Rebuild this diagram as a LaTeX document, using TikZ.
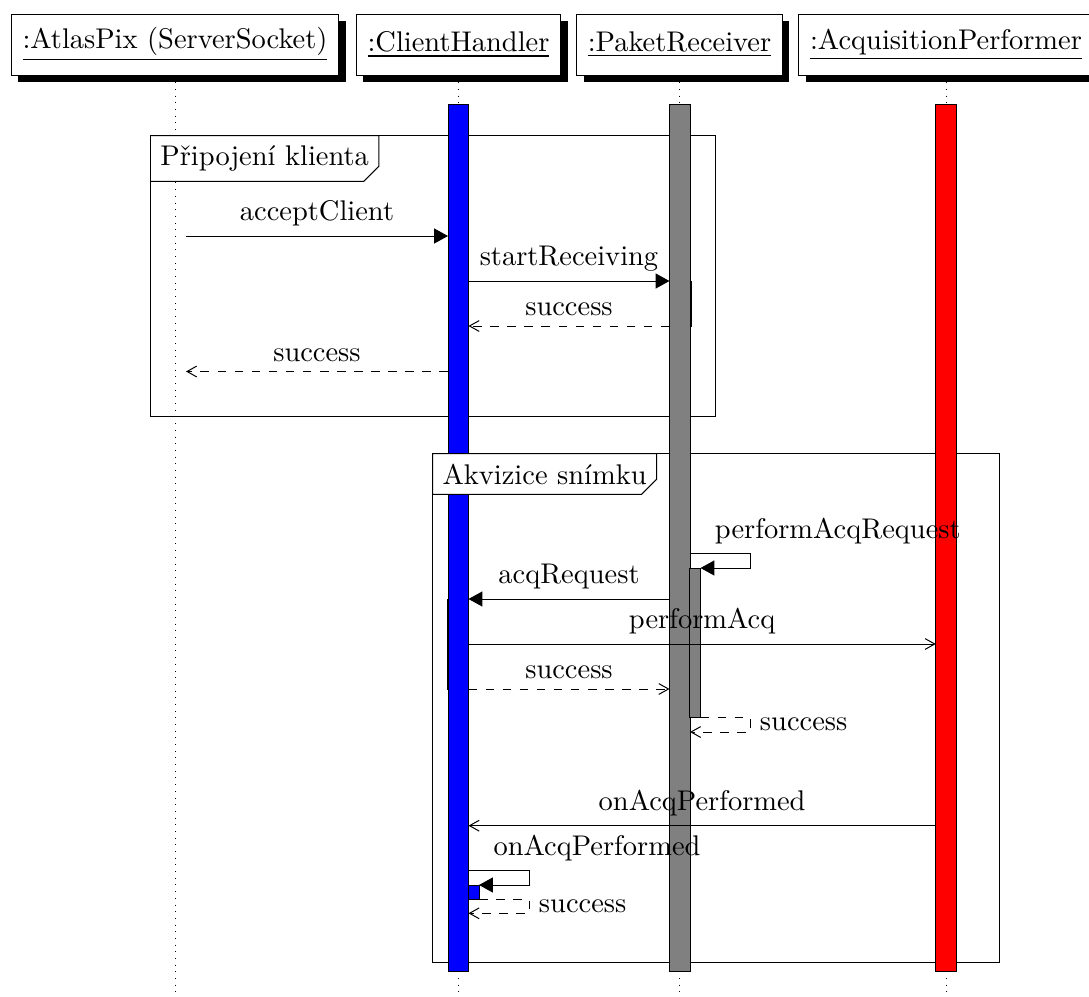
\documentclass[tikz,border=0pt]{standalone}
\usepackage{fontspec}
\usetikzlibrary{arrows.meta,shadows}
\newdimen\pxu
\pxu=0.3515pt
\begin{document}
\begin{tikzpicture}[x=\pxu, y=-\pxu,
  every path/.style={line width=0.35pt},
  header/.style={draw=black, fill=white, line width=0.35pt, inner xsep=3.9pt,
    minimum height=61\pxu,
    drop shadow={fill=black, opacity=1, shadow xshift=7\pxu, shadow yshift=-7\pxu}},
  lifeline/.style={dotted, line width=0.3pt},
  threadbar/.style={draw=black, line width=0.35pt, inner sep=0pt, outer sep=0pt,
    minimum width=20.5\pxu, anchor=north},
  fragment/.style={draw=black, line width=0.35pt},
  fraglabel/.style={anchor=north west, inner sep=3.33pt},
  callarrow/.style={-{Triangle[length=4.9pt,width=5.3pt]}},
  messarrow/.style={-{Straight Barb[length=3.4pt,width=3.8pt]}},
  retarrow/.style={messarrow, dashed},
]
\useasboundingbox (0,0) rectangle (1089,997);

% instances
\node[header] (atlas) at (175,44.5)   {\underline{:AtlasPix (ServerSocket)}};
\node[header] (ch)    at (458.5,44.5) {\underline{:ClientHandler}};
\node[header] (pr)    at (679.5,44.5) {\underline{:PaketReceiver}};
\node[header] (ap)    at (946,44.5)   {\underline{:AcquisitionPerformer}};

% lifelines
\coordinate (bottom) at (0,997);
\foreach \n in {atlas,ch,pr,ap}
  \draw[lifeline] (\n.south) -- (\n.south |- bottom);

% fragments
\coordinate (f1nw) at (150.5,135.7);
\coordinate (f1se) at (715,416.5);
\coordinate (f2nw) at (432.6,453.7);
\coordinate (f2se) at (999.4,962.3);
\draw[fragment] (f1nw) rectangle (f1se);
\draw[fragment] (f2nw) rectangle (f2se);

% call blocks lying under the thread bars
\node[threadbar, fill=gray, minimum height=45\pxu] (prcall) at (680.75,281) {};
\node[threadbar, fill=blue, minimum height=90\pxu] (chcall) at (457.25,599) {};

% thread bars
\node[threadbar, fill=blue, minimum height=867\pxu] (chbar) at (458.25,104) {};
\node[threadbar, fill=gray, minimum height=867\pxu] (prbar) at (679.75,104) {};
\node[threadbar, fill=red,  minimum height=867\pxu] (apbar) at (946,104) {};

% nested blocks of the self calls
\node[threadbar, fill=gray, minimum width=11\pxu, minimum height=149.5\pxu,
  anchor=north west] (prblk) at (689.5,568) {};
\node[threadbar, fill=blue, minimum width=10.5\pxu, minimum height=14.3\pxu,
  anchor=north west] (chblk) at (468.5,885) {};

% fragment labels
\path node[fraglabel] (f1box) at (f1nw) {\phantom{Připojení klienta}};
\draw[fragment, fill=white] (f1box.north west) -- (f1box.north east)
  -- ([yshift=5.3pt]f1box.south east) -- ([xshift=-5.3pt]f1box.south east)
  -- (f1box.south west) -- cycle;
\node[fraglabel] (f1lbl) at (f1nw) {Připojení klienta};

\path node[fraglabel] (f2box) at (f2nw) {\phantom{Akvizice snímku}};
\draw[fragment, fill=white] (f2box.north west) -- (f2box.north east)
  -- ([yshift=5.3pt]f2box.south east) -- ([xshift=-5.3pt]f2box.south east)
  -- (f2box.south west) -- cycle;
\node[fraglabel] (f2lbl) at (f2nw) {Akvizice snímku};

% message levels
\coordinate (atlR) at (186,0);
\coordinate (yA) at (0,236);
\coordinate (yB) at (0,281);
\coordinate (yC) at (0,326);
\coordinate (yD) at (0,371.5);
\coordinate (yE) at (0,553.5);
\coordinate (yG) at (0,599);
\coordinate (yH) at (0,644);
\coordinate (yI) at (0,689);
\coordinate (yK) at (0,732);
\coordinate (yL) at (0,825.7);
\coordinate (yM) at (0,870.7);
\coordinate (yP) at (0,913.3);

% connection of the client
\draw[callarrow] (atlR |- yA) -- node[above] {acceptClient} (chbar.west |- yA);
\draw[callarrow] (chbar.east |- yB) -- node[above] {startReceiving} (prbar.west |- yB);
\draw[retarrow] (prbar.west |- yC) -- node[above] {success} (chbar.east |- yC);
\draw[retarrow] (chbar.west |- yD) -- node[above] {success} (atlR |- yD);

% frame acquisition
\draw[callarrow] (prbar.east |- yE) -- node[pos=.25, above right] {performAcqRequest}
  ++(60,0) |- (prblk.north east);
\draw[callarrow] (prbar.west |- yG) -- node[above] {acqRequest} (chbar.east |- yG);
\draw[messarrow] (chbar.east |- yH) -- node[above] {performAcq} (apbar.west |- yH);
\draw[retarrow] (chbar.east |- yI) -- node[above] {success} (prbar.west |- yI);
\draw[retarrow] (prblk.south east) -- ++(49.5,0) -- node[right] {success}
  ++(0,14.5) -- (prbar.east |- yK);
\draw[messarrow] (apbar.west |- yL) -- node[above] {onAcqPerformed} (chbar.east |- yL);
\draw[callarrow] (chbar.east |- yM) -- node[pos=.25, above right] {onAcqPerformed}
  ++(60.5,0) |- (chblk.north east);
\draw[retarrow] (chblk.south east) -- ++(50,0) -- node[right] {success}
  ++(0,14) -- (chbar.east |- yP);
\end{tikzpicture}
\end{document}
